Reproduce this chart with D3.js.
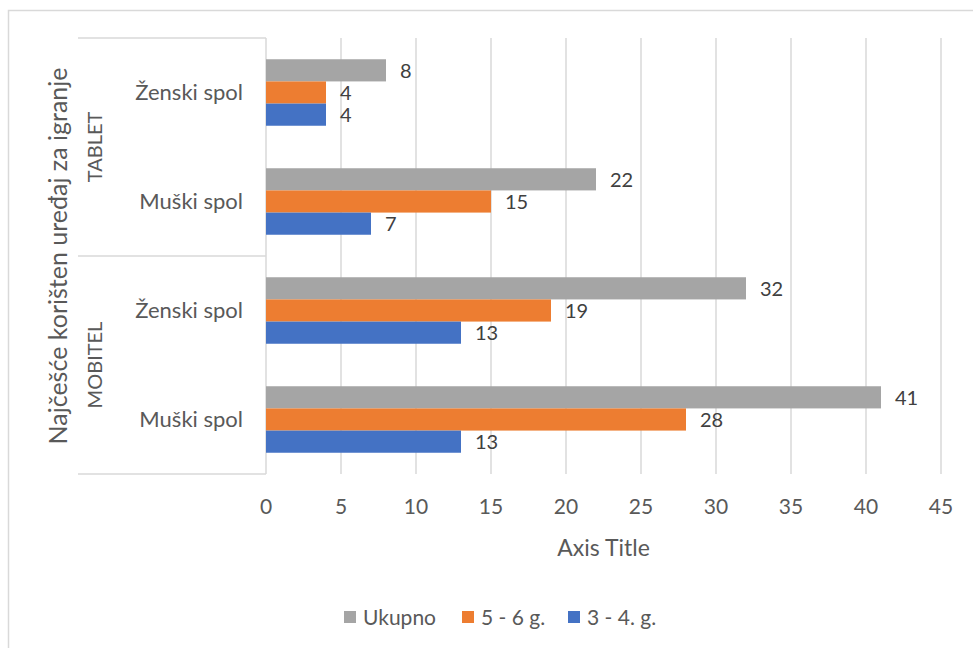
<!DOCTYPE html>
<html>
<head>
<meta charset="utf-8">
<script src="https://cdn.jsdelivr.net/npm/d3@7"></script>
<style>
  body { margin: 0; background: #fff; }
  svg text { font-family: Lato, "Open Sans", sans-serif; }
</style>
</head>
<body>
<div id="chart"></div>
<script>
// categories, top to bottom
const categories = ["Ženski spol", "Muški spol", "Ženski spol", "Muški spol"];
const groups = ["TABLET", "MOBITEL"];
const groupOf = ["TABLET", "TABLET", "MOBITEL", "MOBITEL"];

const seriesNames = ["Ukupno", "5 - 6 g.", "3 - 4. g."];
const ukupno = [8, 22, 32, 41];
const g56 = [4, 15, 19, 28];
const g34 = [4, 7, 13, 13];
const xTicks = [0, 5, 10, 15, 20, 25, 30, 35, 40, 45];

const colors = ["#A5A5A5", "#ED7D31", "#4472C4"];
const seriesValues = [ukupno, g56, g34];

const width = 973, height = 648;
const plot = { left: 266, right: 941, top: 38, bottom: 474 };
const boxLeft = 78;

const svg = d3.select("#chart").append("svg")
    .attr("width", width)
    .attr("height", height);

// chart frame
svg.append("path")
    .attr("d", `M8.5,${height} V10.5 H${width}`)
    .attr("fill", "none")
    .attr("stroke", "#d9d9d9")
    .attr("stroke-width", 1.5);

const x = d3.scaleLinear().domain([0, 45]).range([plot.left, plot.right]);
const y = d3.scaleBand().domain(d3.range(categories.length)).range([plot.top, plot.bottom]);
const yInner = d3.scaleBand().domain(d3.range(seriesNames.length))
    .range([y.bandwidth() * 0.195, y.bandwidth() * 0.805]);

// gridlines
svg.append("g")
  .selectAll("line")
  .data(xTicks.slice(1))
  .join("line")
    .attr("x1", d => x(d)).attr("x2", d => x(d))
    .attr("y1", plot.top).attr("y2", plot.bottom)
    .attr("stroke", "#d9d9d9")
    .attr("stroke-width", 1.5);

// x tick labels
svg.append("g")
  .selectAll("text")
  .data(xTicks)
  .join("text")
    .attr("x", d => x(d))
    .attr("y", 506)
    .attr("dy", "0.36em")
    .attr("text-anchor", "middle")
    .attr("fill", "#595959")
    .attr("font-size", 21)
    .text(d => d);

// category box (multi-level axis)
const box = svg.append("g")
    .attr("stroke", "#d9d9d9")
    .attr("stroke-width", 1.5)
    .attr("fill", "none");
const groupBounds = groups.map(g => {
  const idx = d3.range(categories.length).filter(i => groupOf[i] === g);
  return [y(d3.min(idx)), y(d3.max(idx)) + y.bandwidth()];
});
box.selectAll("line.h")
  .data([plot.top, ...groupBounds.map(b => b[1])])
  .join("line")
    .attr("x1", boxLeft).attr("x2", plot.left)
    .attr("y1", d => d).attr("y2", d => d);
box.append("line")
    .attr("x1", plot.left).attr("x2", plot.left)
    .attr("y1", plot.top).attr("y2", plot.bottom);

// bars
seriesValues.forEach((vals, s) => {
  svg.append("g")
    .selectAll("rect")
    .data(vals)
    .join("rect")
      .attr("x", x(0))
      .attr("y", (d, i) => y(i) + yInner(s))
      .attr("width", d => x(d) - x(0))
      .attr("height", yInner.bandwidth())
      .attr("fill", colors[s]);

  svg.append("g")
    .selectAll("text")
    .data(vals)
    .join("text")
      .attr("x", d => x(d) + 14)
      .attr("y", (d, i) => y(i) + yInner(s) + yInner.bandwidth() / 2)
      .attr("dy", "0.36em")
      .attr("fill", "#404040")
      .attr("font-size", 20)
      .text(d => d);
});

// category labels
svg.append("g")
  .selectAll("text")
  .data(categories)
  .join("text")
    .attr("x", 243)
    .attr("y", (d, i) => y(i) + y.bandwidth() / 2)
    .attr("dy", "0.36em")
    .attr("text-anchor", "end")
    .attr("fill", "#595959")
    .attr("font-size", 22)
    .text(d => d);

// group labels
svg.append("g")
  .selectAll("text")
  .data(groups)
  .join("text")
    .attr("transform", (d, i) => `translate(95,${(groupBounds[i][0] + groupBounds[i][1]) / 2}) rotate(-90)`)
    .attr("text-anchor", "middle")
    .attr("dy", "0.36em")
    .attr("fill", "#595959")
    .attr("font-size", 20)
    .text(d => d);

// axis titles
svg.append("text")
    .attr("transform", `translate(58,${(plot.top + plot.bottom) / 2}) rotate(-90)`)
    .attr("text-anchor", "middle")
    .attr("dy", "0.36em")
    .attr("fill", "#595959")
    .attr("font-size", 25)
    .text("Najčešće korišten uređaj za igranje");

svg.append("text")
    .attr("x", (plot.left + plot.right) / 2)
    .attr("y", 548)
    .attr("dy", "0.36em")
    .attr("text-anchor", "middle")
    .attr("fill", "#595959")
    .attr("font-size", 23)
    .text("Axis Title");

// legend
const legendX = [344, 462, 568];
const legend = svg.append("g")
  .selectAll("g")
  .data(seriesNames)
  .join("g")
    .attr("transform", (d, i) => `translate(${legendX[i]},611)`);
legend.append("rect")
    .attr("width", 12).attr("height", 12)
    .attr("fill", (d, i) => colors[i]);
legend.append("text")
    .attr("x", 19)
    .attr("y", 6)
    .attr("dy", "0.36em")
    .attr("fill", "#595959")
    .attr("font-size", 21)
    .text(d => d);
</script>
</body>
</html>
